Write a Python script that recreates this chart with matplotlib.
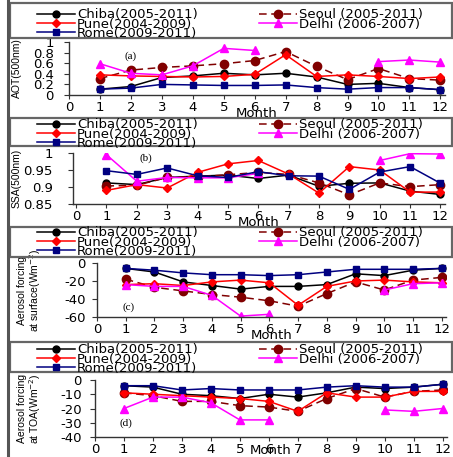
import numpy as np
import matplotlib
matplotlib.use("Agg")
import matplotlib.pyplot as plt
from matplotlib.patches import Rectangle
from matplotlib.lines import Line2D

months = list(range(1, 13))
nan = np.nan

# Panel (a) AOT(500nm)
aot_chiba = [0.11, 0.16, 0.33, 0.36, 0.41, 0.38, 0.41, 0.34, 0.20, 0.22, 0.14, 0.10]
aot_seoul = [0.31, 0.47, 0.52, 0.55, 0.59, 0.65, 0.82, 0.54, 0.29, 0.50, 0.31, 0.28]
aot_pune = [0.38, 0.36, 0.35, 0.34, 0.35, 0.39, 0.76, 0.35, 0.38, 0.35, 0.31, 0.34]
aot_delhi = [0.59, 0.41, 0.38, 0.55, 0.88, 0.84, nan, nan, nan, 0.63, 0.66, 0.62]
aot_rome = [0.11, 0.13, 0.20, 0.19, 0.18, 0.18, 0.19, 0.14, 0.11, 0.14, 0.14, 0.10]

# Panel (b) SSA(500nm)
ssa_chiba = [0.912, 0.907, 0.928, 0.932, 0.935, 0.925, 0.935, 0.902, 0.911, 0.912, 0.888, 0.878]
ssa_seoul = [0.903, 0.905, 0.928, 0.930, 0.936, 0.943, 0.937, 0.912, 0.877, 0.912, 0.901, 0.907]
ssa_pune = [0.890, 0.907, 0.897, 0.943, 0.968, 0.978, 0.938, 0.882, 0.960, 0.950, 0.885, 0.885]
ssa_delhi = [0.995, 0.917, 0.928, 0.927, 0.927, 0.940, nan, nan, nan, 0.978, 0.998, 0.997]
ssa_rome = [0.948, 0.937, 0.956, 0.933, 0.928, 0.945, 0.933, 0.932, 0.893, 0.944, 0.960, 0.911]

# Panel (c) Aerosol forcing at surface (Wm-2)
sfc_chiba = [-6, -10, -21, -25, -29, -26, -26, -24, -12, -14, -8, -6]
sfc_seoul = [-18, -27, -31, -35, -38, -42, -48, -34, -21, -30, -19, -16]
sfc_pune = [-24, -23, -25, -21, -19, -22, -47, -26, -20, -19, -21, -22]
sfc_delhi = [-24, -26, -26, -36, -59, -57, nan, nan, nan, -30, -23, -22]
sfc_rome = [-6, -8, -11, -13, -13, -14, -13, -10, -7, -7, -7, -6]

# Panel (d) Aerosol forcing at TOA (Wm-2)
toa_chiba = [-4, -5, -10, -11, -13, -10, -12, -9, -5, -6, -5, -3]
toa_seoul = [-9, -11, -15, -15, -18, -19, -22, -13, -6, -12, -8, -7]
toa_pune = [-9, -10, -11, -12, -13, -15, -22, -9, -12, -12, -8, -8]
toa_delhi = [-20, -12, -12, -16, -28, -28, nan, nan, nan, -21, -22, -20]
toa_rome = [-4, -4, -7, -6, -7, -7, -7, -5, -4, -5, -5, -3]

series_names = ["Chiba(2005-2011)", "Seoul (2005-2011)", "Pune(2004-2009)",
                "Delhi (2006-2007)", "Rome(2009-2011)"]

W, H = 453, 457
fig = plt.figure(figsize=(W / 100, H / 100), dpi=100)
plt.rcParams['font.family'] = ['DejaVu Sans']

styles = [
    dict(color="black", marker="o", ms=5.0, ls="-", lw=1.1, mfc="black", mec="black"),
    dict(color="#800000", marker="o", ms=6.0, ls=(0, (5, 3)), lw=1.1, mfc="#800000", mec="#800000"),
    dict(color="#FF0000", marker="D", ms=4.0, ls="-", lw=1.1, mfc="#FF0000", mec="#FF0000"),
    dict(color="#FF00FF", marker="^", ms=5.5, ls="-", lw=1.1, mfc="#FF00FF", mec="#FF00FF"),
    dict(color="#000080", marker="s", ms=5.0, ls="-", lw=1.1, mfc="#000080", mec="#000080"),
]


def px_rect(left, top, right, bottom):
    return [left / W, 1 - bottom / H, (right - left) / W, (bottom - top) / H]


panels = [
    dict(data=[aot_chiba, aot_seoul, aot_pune, aot_delhi, aot_rome],
         ylim=(0, 1), yticks=[0, 0.2, 0.4, 0.6, 0.8, 1], ylabels=["0", "0.2", "0.4", "0.6", "0.8", "1"],
         ylabel="AOT(500nm)", tag="(a)", tagpos=(1.8, 0.74), xmin=0.0,
         ax=(69, 42, 445, 95), box=(10, 3, 452, 38), rows=(15, 25, 34),
         ypad=7.5, ylab_x=22, mlabpad=-5),
    dict(data=[ssa_chiba, ssa_seoul, ssa_pune, ssa_delhi, ssa_rome],
         ylim=(0.85, 1), yticks=[0.85, 0.9, 0.95, 1], ylabels=["0.85", "0.9", "0.95", "1"],
         ylabel="SSA(500nm)", tag="(b)", tagpos=(2.1, 0.985), xmin=-0.1,
         ax=(73, 153, 445, 204), box=(10, 118, 452, 146), rows=(125, 135, 143),
         ypad=11, ylab_x=22, mlabpad=-5),
    dict(data=[sfc_chiba, sfc_seoul, sfc_pune, sfc_delhi, sfc_rome],
         ylim=(-60, 0), yticks=[-60, -40, -20, 0], ylabels=["-60", "-40", "-20", "0"],
         ylabel="Aerosol forcing\nat surface(Wm$^{-2}$)", tag="(c)", tagpos=(0.9, -49), xmin=0.0,
         ax=(97, 263, 446, 317), box=(10, 227, 452, 257), rows=(233, 243, 252),
         ypad=4.5, ylab_x=43, mlabpad=-5),
    dict(data=[toa_chiba, toa_seoul, toa_pune, toa_delhi, toa_rome],
         ylim=(-40, 0), yticks=[-40, -30, -20, -10, 0], ylabels=["-40", "-30", "-20", "-10", "0"],
         ylabel="Aerosol forcing\nat TOA(Wm$^{-2}$)", tag="(d)", tagpos=(0.85, -30), xmin=0.0,
         ax=(95, 380, 447, 437), box=(10, 342, 452, 372), rows=(350, 359, 367),
         ypad=6, ylab_x=43, mlabpad=-8),
]

# outer left border
fig.add_artist(Line2D([8 / W, 8 / W], [0, 1], transform=fig.transFigure, color="#555555", lw=2.2))

LEG_FS = 9.5
LEG_PX = LEG_FS * 100 / 72

for p in panels:
    l, t, r, b = p["ax"]
    ax = fig.add_axes(px_rect(l, t, r, b))
    handles = []
    for vals, st in zip(p["data"], styles):
        h, = ax.plot(months, vals, **st)
        handles.append(h)
    ax.set_xlim(p["xmin"], 12.15)
    ax.set_ylim(*p["ylim"])
    ax.set_xticks(range(0, 13))
    ax.set_xticklabels([str(m) for m in range(0, 13)], fontsize=9.5)
    ax.set_yticks(p["yticks"])
    ax.set_yticklabels(p["ylabels"], fontsize=9.5)
    for s in ["top", "right"]:
        ax.spines[s].set_visible(False)
    for s in ["left", "bottom"]:
        ax.spines[s].set_color("#333333")
        ax.spines[s].set_linewidth(1.0)
    ax.tick_params(axis="x", direction="out", length=3, pad=1, colors="#333333", labelcolor="black")
    ax.tick_params(axis="y", direction="out", length=3.5, pad=p["ypad"], colors="#333333",
                   labelcolor="black")
    ax.set_xlabel("Month", fontsize=9.5, labelpad=p["mlabpad"])
    ax.set_ylabel(p["ylabel"], fontsize=7.5, linespacing=1.0, family="Liberation Sans")
    ax.yaxis.set_label_coords((p["ylab_x"] - l) / (r - l), 0.5)
    ax.patch.set_alpha(0)
    ax.text(p["tagpos"][0], p["tagpos"][1], p["tag"], fontsize=8, ha="left", va="center",
            family="Liberation Serif")

    # legend frame
    bl, bt, br, bb = p["box"]
    fig.add_artist(Rectangle((bl / W, 1 - bb / H), (br - bl) / W, (bb - bt) / H,
                             transform=fig.transFigure, fill=False, ec="#666666", lw=1.6))
    order = [0, 2, 4, 1, 3]
    fig.legend([handles[i] for i in order], [series_names[i] for i in order],
               loc="upper left", bbox_to_anchor=(37 / W, 1 - (p["rows"][0] - LEG_PX / 2) / H),
               ncol=2, frameon=False, fontsize=LEG_FS, handlelength=2.9, handletextpad=0.15,
               columnspacing=4.6, labelspacing=-0.29, borderpad=0, borderaxespad=0)

fig.savefig("out.png", dpi=100)
